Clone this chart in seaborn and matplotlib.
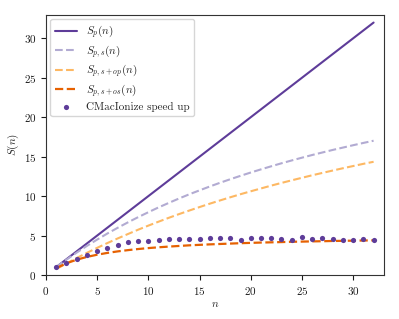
import matplotlib
matplotlib.use("Agg")
import matplotlib.pyplot as plt
import seaborn as sns
import pandas as pd

# ---- data ----
n_threads = [1, 2, 3, 4, 5, 6, 7, 8, 9, 10, 11, 12, 13, 14, 15, 16,
             17, 18, 19, 20, 21, 22, 23, 24, 25, 26, 27, 28, 29, 30, 31, 32]
s_p = [1, 2, 3, 4, 5, 6, 7, 8, 9, 10, 11, 12, 13, 14, 15, 16,
       17, 18, 19, 20, 21, 22, 23, 24, 25, 26, 27, 28, 29, 30, 31, 32]
s_ps = [1.00, 1.95, 2.84, 3.69, 4.49, 5.26, 5.98, 6.67, 7.33, 7.96, 8.57,
        9.14, 9.70, 10.23, 10.73, 11.22, 11.69, 12.14, 12.57, 12.99, 13.39,
        13.78, 14.16, 14.52, 14.87, 15.21, 15.53, 15.85, 16.15, 16.45,
        16.74, 17.02]
s_ps_op = [0.75, 1.46, 2.15, 2.81, 3.44, 4.05, 4.63, 5.19, 5.74, 6.26, 6.76,
           7.25, 7.72, 8.17, 8.61, 9.04, 9.45, 9.85, 10.24, 10.61, 10.97,
           11.33, 11.67, 12.00, 12.32, 12.64, 12.94, 13.24, 13.53, 13.81,
           14.09, 14.35]
s_ps_os = [0.87, 1.48, 1.94, 2.29, 2.57, 2.80, 2.99, 3.15, 3.29, 3.41, 3.51,
           3.60, 3.68, 3.76, 3.82, 3.88, 3.93, 3.98, 4.03, 4.07, 4.11, 4.14,
           4.17, 4.21, 4.23, 4.26, 4.28, 4.31, 4.33, 4.35, 4.37, 4.39]
measured = [0.97, 1.48, 2.07, 2.57, 3.08, 3.42, 3.80, 4.18, 4.30, 4.35, 4.47,
            4.50, 4.50, 4.56, 4.50, 4.64, 4.64, 4.64, 4.47, 4.68, 4.68, 4.64,
            4.50, 4.43, 4.77, 4.56, 4.64, 4.50, 4.47, 4.47, 4.56, 4.43]

labels = [r"$S_p(n)$", r"$S_{p,s}(n)$", r"$S_{p,s+op}(n)$", r"$S_{p,s+os}(n)$"]
colors = ["#5e3c99", "#b2abd2", "#fdb863", "#e66101"]

sns.set_style("ticks")
plt.rcParams.update({
    "font.family": "serif",
    "font.serif": ["cmr10", "DejaVu Serif"],
    "mathtext.fontset": "cm",
    "axes.formatter.use_mathtext": True,
    "font.size": 8,
    "axes.edgecolor": "0.2",
    "xtick.color": "0.1",
    "ytick.color": "0.1",
})

fig = plt.figure(figsize=(3.99, 3.19), dpi=100)
ax = fig.add_axes([0.1153, 0.138, 0.8467, 0.816])

series = [s_p, s_ps, s_ps_op, s_ps_os]
styles = ["-", "--", "--", "--"]
widths = [1.5, 1.5, 1.5, 1.6]
for vals, lab, col, ls, lw in zip(series, labels, colors, styles, widths):
    sns.lineplot(x=n_threads, y=vals, ax=ax, color=col, linestyle=ls,
                 linewidth=lw, label=lab)

sns.scatterplot(x=n_threads, y=measured, ax=ax, color="#5e3c99", s=14,
                linewidth=0, label="CMacIonize speed up", zorder=5)

ax.set_xlim(0, 33)
ax.set_ylim(0, 33)
ax.set_xticks([0, 5, 10, 15, 20, 25, 30])
ax.set_yticks([0, 5, 10, 15, 20, 25, 30])
ax.set_xlabel(r"$n$", fontsize=8, labelpad=2)
ax.set_ylabel(r"$S(n)$", fontsize=8, labelpad=2)
ax.tick_params(labelsize=8, length=3.5, width=0.8)

leg = ax.legend(loc="upper left", fontsize=8, frameon=True, labelspacing=0.25,
                borderaxespad=0.4)
leg.get_frame().set_edgecolor("0.8")

fig.savefig("out.png", dpi=100)
